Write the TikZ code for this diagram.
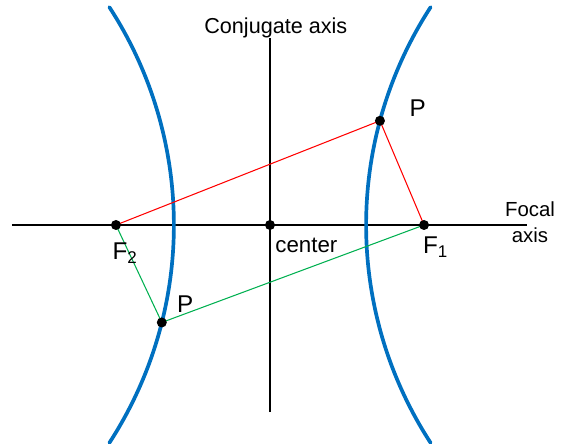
\documentclass[tikz,border=0pt]{standalone}
\usepackage{fontspec}
\setmainfont{Liberation Sans}
\usetikzlibrary{calc}
\definecolor{branchblue}{RGB}{0,112,192}
\definecolor{focalgreen}{RGB}{0,176,80}
\tikzset{
  axisline/.style={line width=1.7pt},
  branch/.style={branchblue,line width=2.1pt},
  leg/.style={line width=0.6pt},
  ptlabel/.style={inner sep=0pt,anchor=base west,font=\fontsize{13.8pt}{16pt}\selectfont},
  txtlabel/.style={inner sep=0pt,anchor=base,font=\fontsize{12.3pt}{15pt}\selectfont}
}
\begin{document}
\begin{tikzpicture}[line cap=round,line join=round,scale=0.02]

\def\a{96}
\def\c{154}
\def\R{400}
\def\t{33}

\useasboundingbox (-270,-219) rectangle (293,225);

\coordinate (O) at (0,0);
\coordinate (F1) at (\c,0);
\coordinate (F2) at (-\c,0);
\coordinate (Cr) at (\a+\R,0);
\coordinate (Cl) at (-\a-\R,0);
\coordinate (P1) at ($(Cr)+(164.9:\R)$);
\coordinate (P2) at ($(Cl)+(-14.1:\R)$);
\coordinate (Xl) at (-258,0);
\coordinate (Xr) at (257,0);
\coordinate (Yt) at (0,187);
\coordinate (Yb) at (0,-187);

\draw[axisline,line cap=butt] (Xl) -- (Xr);
\draw[axisline,line cap=butt] (Yb) -- (Yt);

\draw[branch] ($(Cr)+(180-\t:\R)$) arc[start angle=180-\t,end angle=180+\t,radius=\R];
\draw[branch] ($(Cl)+(-\t:\R)$) arc[start angle=-\t,end angle=\t,radius=\R];

\draw[leg,red] (F2) -- (P1) -- (F1);
\draw[leg,focalgreen] (F2) -- (P2) -- (F1);

\foreach \p in {O,F1,F2,P1,P2}
  \fill (\p) circle (5);

\node[ptlabel] (lP1) at (139.3,108.3) {P};
\node[ptlabel] (lP2) at (-93.3,-87.7) {P};
\node[ptlabel] (lF1) at (152.7,-29) {F\textsubscript{1}};
\node[ptlabel] (lF2) at (-157.7,-35) {F\textsubscript{2}};
\node[txtlabel] (lconj) at (5.8,191.7) {Conjugate axis};
\node[txtlabel,anchor=base west,font=\fontsize{12.7pt}{15pt}\selectfont] (lcenter) at (5,-27.3) {center};
\node[txtlabel,align=center,font=\fontsize{11.6pt}{15.1pt}\selectfont] (lfocal) at (260,-17.7) {Focal\\axis};
\end{tikzpicture}
\end{document}
